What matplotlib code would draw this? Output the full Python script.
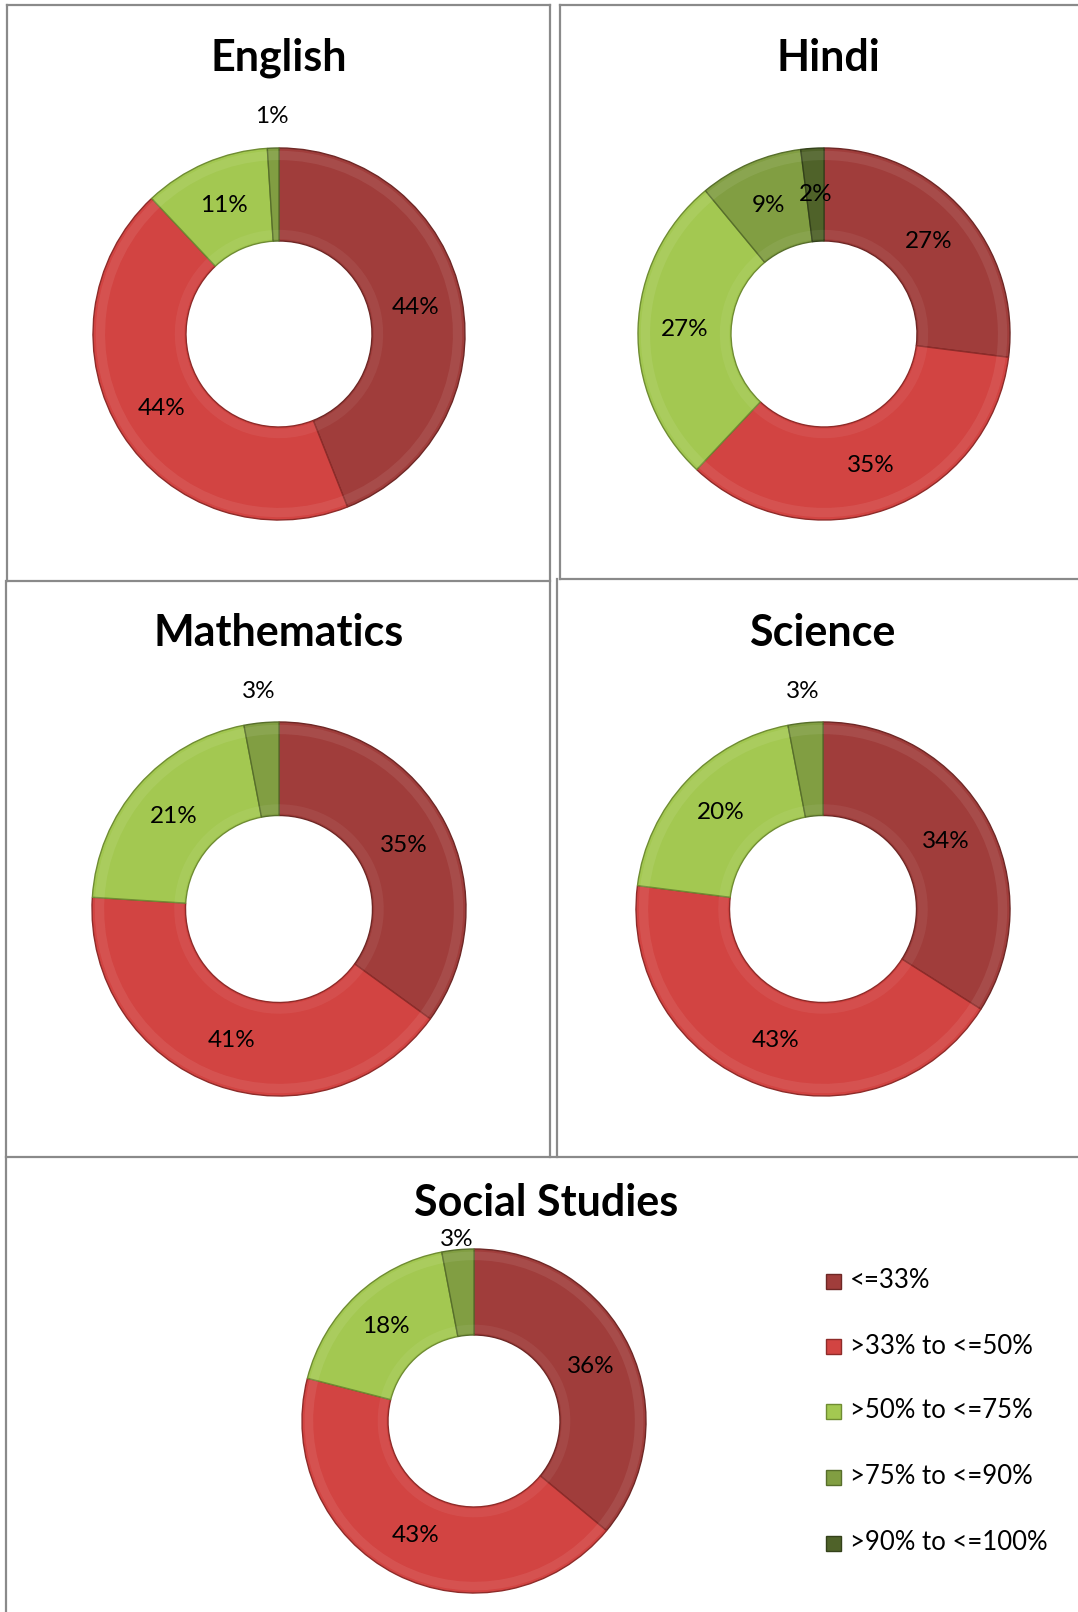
import numpy as np
import matplotlib
matplotlib.use("Agg")
from matplotlib import pyplot as plt
from matplotlib.lines import Line2D
from matplotlib.patches import Wedge

plt.rcParams['font.family'] = ['Lato', 'DejaVu Sans']

categories = ["<=33%", ">33% to <=50%", ">50% to <=75%", ">75% to <=90%", ">90% to <=100%"]
colors = ["#A03D3B", "#D24442", "#A3C851", "#819E42", "#4F6229"]
edge_colors = ["#6E2725", "#8E2B29", "#6F8C32", "#576E2B", "#33411A"]

english = [44, 44, 11, 1, 0]
hindi = [27, 35, 27, 9, 2]
mathematics = [35, 41, 21, 3, 0]
science = [34, 43, 20, 3, 0]
social_studies = [36, 43, 18, 3, 0]

W, H = 1078, 1612
fig = plt.figure(figsize=(W / 100, H / 100), dpi=100)


def fx(x):
    return x / W


def fy(y):
    return 1 - y / H


def donut(values, title, cx, cy, r, title_y, title_x=None, outside=(), out_r=1.17):
    half = r * 1.35
    ax = fig.add_axes([fx(cx - half), fy(cy + half), 2 * half / W, 2 * half / H])
    vals = [v for v in values if v > 0]
    cols = [c for v, c in zip(values, colors) if v > 0]
    ecols = [c for v, c in zip(values, edge_colors) if v > 0]
    wedges, _ = ax.pie(vals, colors=cols, radius=1.0, startangle=90, counterclock=False,
                       wedgeprops=dict(width=0.5, linewidth=1.0))
    for w, ec in zip(wedges, ecols):
        w.set_edgecolor(ec)
        # soft bevel: light band inside the outer rim and along the inner rim
        ax.add_patch(Wedge((0, 0), 0.985, w.theta1, w.theta2, width=0.05,
                           facecolor="white", alpha=0.08, linewidth=0))
        ax.add_patch(Wedge((0, 0), 0.56, w.theta1, w.theta2, width=0.05,
                           facecolor="white", alpha=0.06, linewidth=0))
    ax.set_xlim(-half / r, half / r)
    ax.set_ylim(-half / r, half / r)
    ax.set_aspect("equal")
    ax.axis("off")
    total = sum(vals)
    cum = 0
    for i, v in enumerate(vals):
        mid = (cum + v / 2) / total * 360
        cum += v
        ang = np.deg2rad(90 - mid)
        rr = out_r if i in outside else 0.75
        ax.text(rr * np.cos(ang), rr * np.sin(ang), f"{v}%", ha="center", va="center",
                fontsize=17.5, color="black")
    fig.text(fx(cx if title_x is None else title_x), fy(title_y), title, ha="center", va="center",
             fontsize=31, fontweight="bold")


donut(english, "English", 279, 334, 186, 58, outside=(3,))
donut(hindi, "Hindi", 824, 334, 186, 58, title_x=828)
donut(mathematics, "Mathematics", 279, 909, 187, 633, outside=(3,))
donut(science, "Science", 823, 909, 187, 633, title_x=822, outside=(3,))
donut(social_studies, "Social Studies", 474, 1421, 172, 1203, title_x=546, outside=(3,), out_r=1.06)

# legend
leg_y = [1281, 1346, 1411, 1477, 1543]
for lab, c, ec, y in zip(categories, colors, edge_colors, leg_y):
    fig.patches.append(plt.Rectangle((fx(826), fy(y + 8)), 15 / W, 15 / H, facecolor=c,
                                     edgecolor=ec, linewidth=1, transform=fig.transFigure))
    fig.text(fx(850), fy(y), lab, ha="left", va="center", fontsize=18.5)

# panel borders
border = "#8A8A8A"
segs = [
    ((7, 5), (550, 5)), ((7, 5), (7, 581)), ((550, 5), (550, 1157)), ((7, 581), (550, 581)),
    ((560, 5), (1078, 5)), ((560, 5), (560, 579)), ((560, 579), (1078, 579)),
    ((6, 581), (6, 1612)), ((557, 579), (557, 1157)),
    ((6, 1157), (1078, 1157)),
]
for (x0, y0), (x1, y1) in segs:
    fig.lines.append(Line2D([fx(x0), fx(x1)], [fy(y0), fy(y1)], color=border, linewidth=1.6,
                            transform=fig.transFigure))

fig.savefig("out.png", dpi=100, facecolor="white")
